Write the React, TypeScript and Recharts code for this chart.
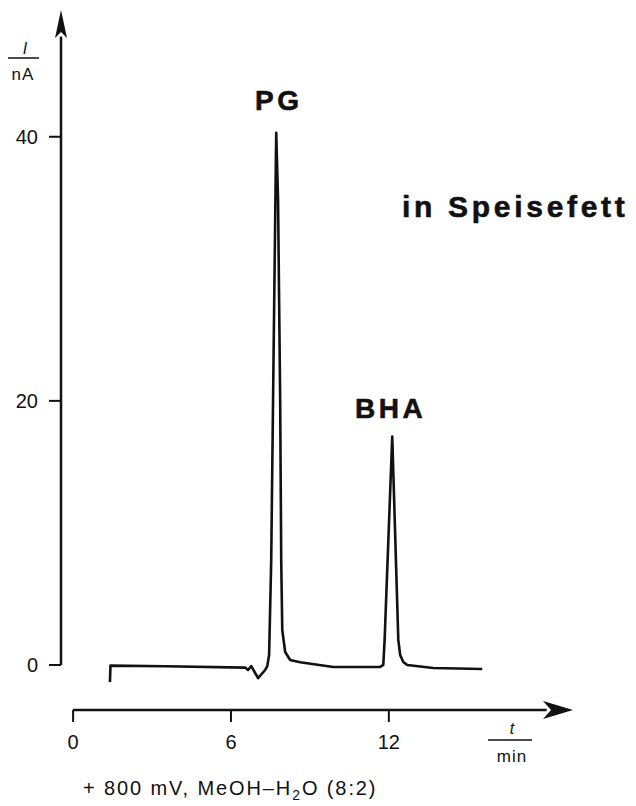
import React from 'react';
import { LineChart, Line, XAxis, YAxis, ReferenceLine, ReferenceDot } from 'recharts';

// retention time (min) and detector current (nA)
const TIME = [
  1.4, 1.42, 3.5, 6.54, 6.65, 6.77, 7.03, 7.3, 7.38, 7.45, 7.53, 7.6, 7.68, 7.72,
  7.79, 7.87, 7.91, 7.95, 8.06, 8.25, 8.63, 9.89, 11.67, 11.79, 11.84, 12.13,
  12.36, 12.43, 12.55, 12.7, 13.69, 15.55,
];
const CURRENT = [
  -1.3, -0.05, -0.1, -0.2, -0.38, -0.08, -1.0, -0.38, -0.08, 0.76, 7.95, 20.1, 33.7, 40.3,
  35.2, 20.1, 7.95, 2.65, 0.98, 0.38, 0.2, -0.15, -0.15, 0, 1.9, 17.3,
  1.9, 0.76, 0.23, 0, -0.23, -0.3,
];

const X_TICKS = [0, 6, 12];
const Y_TICKS = [0, 20, 40];

const X_MIN = -0.46;
const X_MAX = 19;
const Y_MIN = -3.41;
const Y_MAX = 49.6;

const INK = '#111';
const FONT = '"Liberation Sans", Arial, Helvetica, sans-serif';

const trace = TIME.map((t, i) => ({ t, i: CURRENT[i] }));

// arrow heads, drawn at the end of each axis
const ArrowRight = (props: any) => {
  const { cx, cy } = props;
  return <polygon points={`${cx},${cy} ${cx - 30},${cy - 9} ${cx - 22},${cy} ${cx - 30},${cy + 9}`} fill={INK} />;
};
const ArrowUp = (props: any) => {
  const { cx, cy } = props;
  return <polygon points={`${cx},${cy} ${cx - 6},${cy + 28} ${cx},${cy + 22} ${cx + 6},${cy + 28}`} fill={INK} />;
};

export default function App() {
  return (
    <div style={{ position: 'absolute', left: 0, top: 0, width: 636, height: 806, background: '#fff' }}>
      <LineChart width={636} height={806} data={trace} margin={{ top: 10, right: 63, bottom: 36, left: 0 }}>
        <XAxis
          dataKey="t"
          type="number"
          domain={[X_MIN, X_MAX]}
          allowDataOverflow
          ticks={X_TICKS}
          axisLine={false}
          tickLine={{ stroke: INK, strokeWidth: 2 }}
          tickSize={12}
          tickMargin={13}
          height={60}
          tick={{ fill: INK, fontSize: 20, fontFamily: FONT }}
        />
        <YAxis
          type="number"
          domain={[Y_MIN, Y_MAX]}
          allowDataOverflow
          ticks={Y_TICKS}
          width={61}
          axisLine={false}
          tickLine={{ stroke: INK, strokeWidth: 2 }}
          tickSize={12}
          tickMargin={11}
          tick={{ fill: INK, fontSize: 20, fontFamily: FONT }}
        />
        <ReferenceLine
          segment={[{ x: 0, y: Y_MIN }, { x: X_MAX - 1, y: Y_MIN }]}
          stroke={INK}
          strokeWidth={2.5}
          ifOverflow="visible"
        />
        <ReferenceLine
          segment={[{ x: X_MIN, y: 0 }, { x: X_MIN, y: Y_MAX - 2 }]}
          stroke={INK}
          strokeWidth={2.5}
          ifOverflow="visible"
        />
        <ReferenceDot x={X_MAX} y={Y_MIN} r={0} ifOverflow="visible" shape={ArrowRight} />
        <ReferenceDot x={X_MIN} y={Y_MAX} r={0} ifOverflow="visible" shape={ArrowUp} />
        <Line
          dataKey="i"
          type="linear"
          stroke={INK}
          strokeWidth={2.6}
          strokeLinejoin="round"
          dot={false}
          activeDot={false}
          isAnimationActive={false}
        />
      </LineChart>

      {/* labels and axis titles */}
      <svg width={636} height={806} style={{ position: 'absolute', left: 0, top: 0, pointerEvents: 'none' }} fontFamily={FONT} fill={INK}>
        <text x={25} y={54} fontSize={16} fontStyle="italic" textAnchor="middle">I</text>
        <line x1={8} x2={39} y1={58} y2={58} stroke={INK} strokeWidth={1.5} />
        <text x={23} y={80} fontSize={17} textAnchor="middle" letterSpacing={1}>nA</text>

        <text x={512} y={734} fontSize={16} fontStyle="italic" textAnchor="middle">t</text>
        <line x1={488} x2={532} y1={740} y2={740} stroke={INK} strokeWidth={1.5} />
        <text x={512} y={762} fontSize={17} textAnchor="middle" letterSpacing={1}>min</text>

        <text x={255} y={110} fontSize={28} fontWeight="bold" letterSpacing={3.5} stroke={INK} strokeWidth={0.6}>PG</text>
        <text x={355} y={418} fontSize={28} fontWeight="bold" letterSpacing={3.5} stroke={INK} strokeWidth={0.6}>BHA</text>
        <text x={402} y={217} fontSize={30} fontWeight="bold" letterSpacing={3.7} stroke={INK} strokeWidth={0.6}>in Speisefett</text>

        <text x={83} y={795} fontSize={20} letterSpacing={1.9}>
          + 800 mV, MeOH–H<tspan dy={5} fontSize={14}>2</tspan><tspan dy={-5}>O (8:2)</tspan>
        </text>
      </svg>
    </div>
  );
}
